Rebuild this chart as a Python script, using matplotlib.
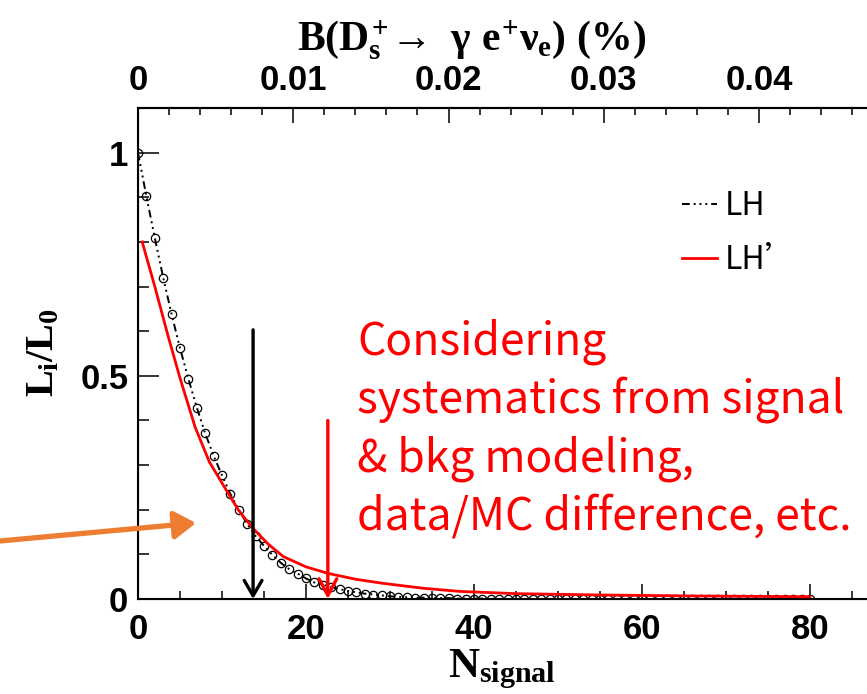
import matplotlib
matplotlib.use('Agg')
import matplotlib.pyplot as plt
from matplotlib.lines import Line2D
from matplotlib.patches import FancyArrowPatch
from matplotlib.ticker import MultipleLocator

plt.rcParams['mathtext.fontset'] = 'custom'
for k in ['rm', 'it', 'bf', 'sf']:
    plt.rcParams['mathtext.' + k] = 'Liberation Serif:bold'

# ---------------- data ----------------
n_signal = list(range(0, 81))
lh = [1.000, 0.902, 0.809, 0.720, 0.638, 0.562, 0.493, 0.429, 0.371, 0.321,
      0.277, 0.235, 0.200, 0.168, 0.141, 0.119, 0.099, 0.081, 0.067, 0.057,
      0.046, 0.037, 0.032, 0.027, 0.022, 0.018, 0.015, 0.012, 0.010, 0.008,
      0.006, 0.005, 0.004, 0.003, 0.003, 0.002, 0.002, 0.002, 0.001, 0.001,
      0.001, 0.001, 0.001, 0.000, 0.000, 0.000, 0.000, 0.000, 0.000, 0.000,
      0.000, 0.000, 0.000, 0.000, 0.000, 0.000, 0.000, 0.000, 0.000, 0.000,
      0.000, 0.000, 0.000, 0.000, 0.000, 0.000, 0.000, 0.000, 0.000, 0.000,
      0.000, 0.000, 0.000, 0.000, 0.000, 0.000, 0.000, 0.000, 0.000, 0.000,
      0.000]
lhp_x = [0.5, 2, 3.6, 5, 6.8, 8.5, 10.6, 12, 13.7, 15.5, 17.3, 20, 22.7, 26,
         29.2, 34, 38.3, 45, 55, 65, 80]
lhp_y = [0.800, 0.700, 0.588, 0.495, 0.385, 0.307, 0.241, 0.198, 0.158, 0.123,
         0.095, 0.072, 0.057, 0.044, 0.035, 0.024, 0.017, 0.012, 0.009, 0.007,
         0.005]
upper_lh = 13.7      # black arrow
upper_lhp = 22.6     # red arrow
arrow_top_lh = 0.603
arrow_top_lhp = 0.40
br_per_signal = 0.04 / 73.93   # conversion of top axis (%)

x_ticks = [0, 20, 40, 60, 80]
y_ticks = [0, 0.5, 1]
y_ticklabels = ['0', '0.5', '1']
top_ticks = [0, 0.01, 0.02, 0.03, 0.04]
top_ticklabels = ['0', '0.01', '0.02', '0.03', '0.04']

# ---------------- figure ----------------
W, H = 867, 694
fig = plt.figure(figsize=(W / 100, H / 100), dpi=100)
xmax = 90
ax = fig.add_axes([138 / W, 95 / H, xmax * 8.4 / W, 491 / H])
ax.set_xlim(0, xmax)
ax.set_ylim(0, 1.1)

lh_style = (0, (4, 2, 1, 2, 1, 2, 1, 2))
ax.plot(n_signal, lh, color='k', lw=1.4, linestyle=lh_style,
        marker='o', markersize=6, markerfacecolor='none',
        markeredgecolor='k', markeredgewidth=0.9, zorder=3)
ax.plot(lhp_x, lhp_y, color='red', lw=2.0, zorder=4)

ax.annotate('', xy=(upper_lh, 0), xytext=(upper_lh, arrow_top_lh),
            arrowprops=dict(arrowstyle='->,head_length=0.55,head_width=0.32',
                            lw=2.4, color='k', shrinkA=0, shrinkB=0,
                            mutation_scale=20), zorder=5)
ax.annotate('', xy=(upper_lhp, 0), xytext=(upper_lhp, arrow_top_lhp),
            arrowprops=dict(arrowstyle='->,head_length=0.6,head_width=0.32',
                            lw=2.4, color='red', shrinkA=0, shrinkB=0,
                            mutation_scale=20), zorder=5)

tick_font = dict(family='Liberation Sans', weight='bold', size=25)
ax.set_xticks(x_ticks)
ax.set_xticklabels([str(t) for t in x_ticks], **tick_font)
ax.set_yticks(y_ticks)
ax.set_yticklabels(y_ticklabels, **tick_font)
ax.xaxis.set_minor_locator(MultipleLocator(5))
ax.yaxis.set_minor_locator(MultipleLocator(0.1))
ax.tick_params(axis='x', which='major', direction='in', length=11, width=1.1, pad=10)
ax.tick_params(axis='x', which='minor', direction='in', length=6, width=1.1)
ax.tick_params(axis='y', which='major', direction='in', length=15, width=1.1, pad=7)
ax.tick_params(axis='y', which='minor', direction='in', length=8, width=1.1)
for s in ['left', 'bottom', 'top']:
    ax.spines[s].set_linewidth(1.5)
ax.spines['right'].set_visible(False)

ax2 = ax.twiny()
ax2.set_xlim(0, xmax * br_per_signal)
ax2.set_xticks(top_ticks)
ax2.set_xticklabels(top_ticklabels, **tick_font)
ax2.xaxis.set_minor_locator(MultipleLocator(0.002))
ax2.tick_params(axis='x', which='major', direction='in', length=11, width=1.1, pad=8)
ax2.tick_params(axis='x', which='minor', direction='in', length=5, width=1.1)
ax2.spines['right'].set_visible(False)
ax2.spines['top'].set_linewidth(1.5)

# axis titles
fig.text(472 / W, 1 - 40 / H,
         r'$B(D_s^{\text{+}}\!\rightarrow\ \gamma\ e^{\text{+}}\nu_e)\ (\%)$',
         ha='center', va='center', fontsize=30)
fig.text(502 / W, 1 - 669 / H, r'$N_{signal}$', ha='center', va='center', fontsize=31)
fig.text(42 / W, 1 - 353 / H, r'$L_i/L_0$', ha='center', va='center',
         rotation=90, fontsize=29)

# legend
lfont = dict(family='Noto Sans CJK SC', size=23)
handles = [Line2D([], [], color='k', lw=1.4, linestyle=lh_style),
           Line2D([], [], color='red', lw=2.0)]
leg = fig.legend(handles, ['LH', 'LH\u2019'], loc='upper left',
                 bbox_to_anchor=(682 / W, 1 - 190 / H), frameon=False,
                 prop=lfont,
                 handlelength=1.1, handletextpad=0.25, labelspacing=0.7,
                 borderpad=0, borderaxespad=0)

# red annotation
fig.text(357 / W, 1 - 318 / H,
         'Considering\nsystematics from signal\n& bkg modeling,\ndata/MC difference, etc.',
         ha='left', va='top', color='red', fontsize=32,
         family=['Noto Sans CJK SC', 'DejaVu Sans'], linespacing=1.33)

# orange arrow
fig.add_artist(FancyArrowPatch(posA=(0, 1 - 541 / H), posB=(196 / W, 1 - 523 / H),
                               transform=fig.transFigure,
                               arrowstyle='-|>,head_length=0.65,head_width=0.42',
                               mutation_scale=20, lw=3.8, color='#ED7D31',
                               shrinkA=0, shrinkB=0))

fig.savefig('out.png', dpi=100)
